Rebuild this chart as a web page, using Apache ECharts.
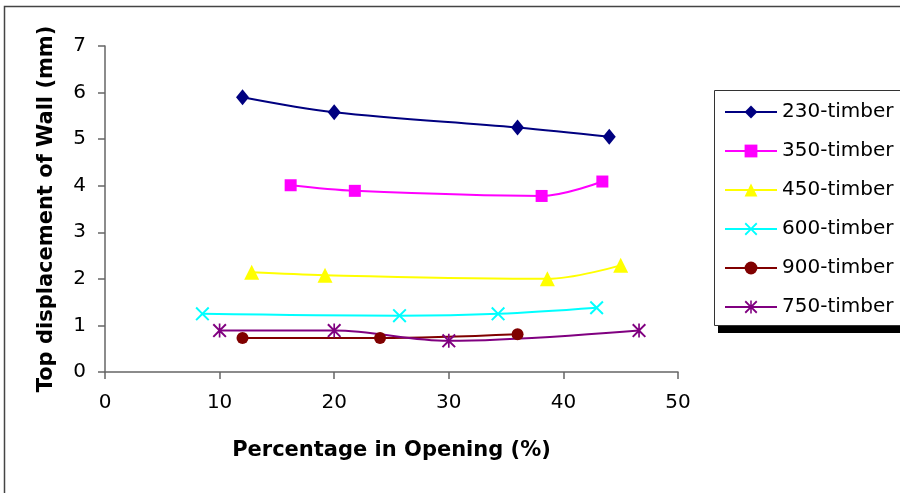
<!DOCTYPE html>
<html>
<head>
<meta charset="utf-8">
<script src="https://cdn.jsdelivr.net/npm/echarts@6/dist/echarts.min.js"></script>
<style>html,body{margin:0;padding:0;background:#fff;}#c{width:900px;height:493px;}</style>
</head>
<body>
<div id="c"></div>
<script>
// ---- data ----
var seriesNames = ['230-timber', '350-timber', '450-timber', '600-timber', '900-timber', '750-timber'];
var x230 = [12, 20, 36, 44];
var y230 = [5.9, 5.58, 5.25, 5.05];
var x350 = [16.2, 21.8, 38.1, 43.4];
var y350 = [4.01, 3.89, 3.78, 4.09];
var x450 = [12.8, 19.2, 38.6, 45.0];
var y450 = [2.14, 2.08, 2.0, 2.29];
var x600 = [8.5, 25.7, 34.3, 42.9];
var y600 = [1.25, 1.21, 1.25, 1.38];
var x900 = [12, 24, 36];
var y900 = [0.73, 0.73, 0.81];
var x750 = [10, 20, 30, 46.6];
var y750 = [0.89, 0.89, 0.67, 0.89];
var xTicks = [0, 10, 20, 30, 40, 50];
var yTicks = [0, 1, 2, 3, 4, 5, 6, 7];

var xs = [x230, x350, x450, x600, x900, x750];
var ys = [y230, y350, y450, y600, y900, y750];
var colors = ['#000080', '#FF00FF', '#FFFF00', '#00FFFF', '#800000', '#800080'];
var X_PATH = 'path://M0,1 L1,0 L5,4 L9,0 L10,1 L6,5 L10,9 L9,10 L5,6 L1,10 L0,9 L4,5 Z';
var STAR_PATH = 'path://M0,1 L1,0 L5,4 L9,0 L10,1 L6,5 L10,9 L9,10 L5,6 L1,10 L0,9 L4,5 Z M4.4,0 L5.6,0 L5.6,10 L4.4,10 Z';
var symbols = ['diamond', 'rect', 'triangle', X_PATH, 'circle', STAR_PATH];
var sizes = [[13, 16], 12, 15, 14, 12, 14];

function pairs(a, b) { return a.map(function (v, i) { return [v, b[i]]; }); }

var series = seriesNames.map(function (n, i) {
  return {
    name: n,
    type: 'line',
    data: pairs(xs[i], ys[i]),
    smooth: 0.35,
    symbol: symbols[i],
    symbolSize: sizes[i],
    showAllSymbol: true,
    lineStyle: { color: colors[i], width: 2 },
    itemStyle: { color: colors[i] },
    emphasis: { disabled: true },
    animation: false
  };
});

var FONT = 'DejaVu Sans';
var chart = echarts.init(document.getElementById('c'), null, { renderer: 'canvas' });
chart.setOption({
  backgroundColor: '#fff',
  animation: false,
  grid: { left: 105, top: 46, right: 222, bottom: 121, containLabel: false },
  xAxis: {
    type: 'value', min: xTicks[0], max: xTicks[xTicks.length - 1], interval: 10,
    name: 'Percentage in Opening (%)', nameLocation: 'middle', nameGap: 68,
    nameTextStyle: { fontFamily: FONT, fontWeight: 'bold', fontSize: 21, color: '#000' },
    axisLine: { show: true, lineStyle: { color: '#666', width: 1.5 } },
    axisTick: { show: true, length: 7, lineStyle: { color: '#666', width: 1.5 } },
    axisLabel: { fontFamily: FONT, fontSize: 20, color: '#000', margin: 21 },
    splitLine: { show: false }
  },
  yAxis: {
    type: 'value', min: yTicks[0], max: yTicks[yTicks.length - 1], interval: 1,
    name: 'Top displacement of Wall (mm)', nameLocation: 'middle', nameGap: 48, nameRotate: 90,
    nameTextStyle: { fontFamily: FONT, fontWeight: 'bold', fontSize: 21, color: '#000' },
    axisLine: { show: true, lineStyle: { color: '#666', width: 1.5 } },
    axisTick: { show: true, length: 7, lineStyle: { color: '#666', width: 1.5 } },
    axisLabel: { fontFamily: FONT, fontSize: 20, color: '#000', margin: 19 },
    splitLine: { show: false }
  },
  legend: {
    orient: 'vertical', left: 714, top: 90,
    data: seriesNames,
    itemWidth: 52, itemHeight: 16, itemGap: 19,
    padding: [12, 30, 6, 10],
    lineStyle: { width: 2 },
    textStyle: { fontFamily: FONT, fontSize: 20, color: '#000', lineHeight: 20 },
    z: 10
  },
  graphic: [
    { type: 'rect', shape: { x: 4.5, y: 6.5, width: 1000, height: 1000 }, style: { fill: 'none', stroke: '#444', lineWidth: 1.5 }, z: 0, silent: true },
    { type: 'rect', shape: { x: 718, y: 96, width: 300, height: 237 }, style: { fill: '#000' }, z: 1, silent: true },
    { type: 'rect', shape: { x: 714.5, y: 90.5, width: 300, height: 235 }, style: { fill: '#fff', stroke: '#333', lineWidth: 1 }, z: 2, silent: true }
  ],
  series: series
});
</script>
</body>
</html>
